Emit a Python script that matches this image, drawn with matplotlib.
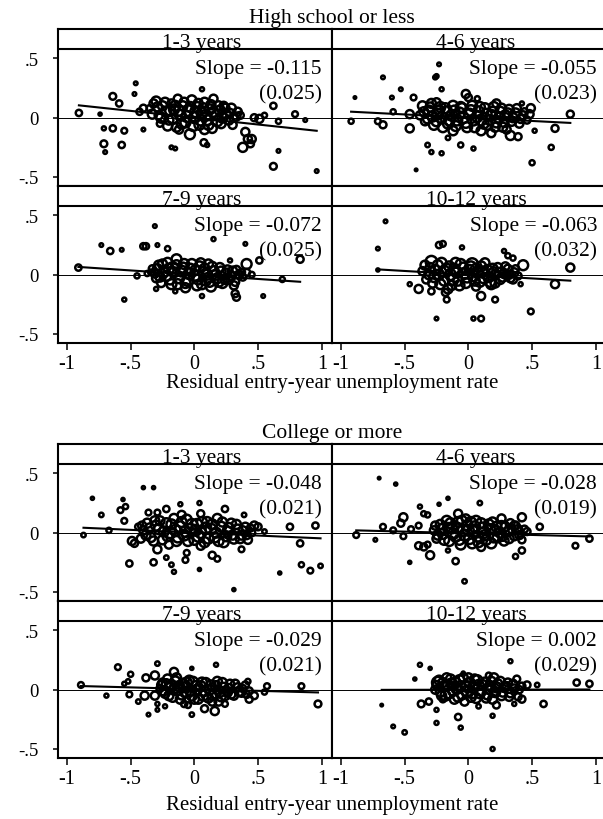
import numpy as np
import matplotlib
matplotlib.use("Agg")
import matplotlib.pyplot as plt

plt.rcParams['font.family'] = ['Liberation Serif', 'DejaVu Serif']

# ---- data (x, y, marker size) ----
group_titles = ["High school or less", "College or more"]
panel_titles = ["1-3 years", "4-6 years", "7-9 years", "10-12 years"]
xlabel = "Residual entry-year unemployment rate"

slopes_hs = [-0.115, -0.055, -0.072, -0.063]
ses_hs = [0.025, 0.023, 0.025, 0.032]
icpt_hs = [0.0, 0.0, 0.0, 0.0]
slopes_col = [-0.048, -0.028, -0.029, 0.002]
ses_col = [0.021, 0.019, 0.021, 0.029]
icpt_col = [0.0, -0.005, 0.005, 0.0]

xticks = [-1, -0.5, 0, 0.5, 1]
yticks = [-0.5, 0, 0.5]

hs_13 = [(-0.906, 0.04, 12), (-0.74, 0.03, 3), (-0.64, 0.18, 14), (-0.59, 0.12, 12), (-0.46, 0.29, 4),
         (-0.47, 0.20, 4), (-0.71, -0.09, 5), (-0.64, -0.09, 12), (-0.55, -0.11, 10), (-0.71, -0.22, 14),
         (-0.70, -0.29, 4), (-0.57, -0.23, 12), (-0.18, -0.25, 4), (-0.15, -0.26, 4), (0.06, 0.24, 5),
         (0.075, -0.21, 14), (0.10, -0.23, 5), (0.62, 0.10, 12), (0.79, 0.03, 10), (0.87, -0.02, 4),
         (0.66, -0.03, 8), (0.51, -0.01, 20), (0.66, -0.28, 4), (0.62, -0.41, 14), (0.96, -0.45, 4),
         (-0.40, -0.10, 4), (-0.43, 0.05, 12), (-0.40, 0.08, 15), (0.47, 0.0, 15), (0.55, 0.02, 8),
         (-0.35, 0.08, 12), (-0.32, 0.12, 20), (-0.30, 0.14, 25), (-0.28, 0.02, 20), (-0.27, -0.05, 12),
         (-0.25, 0.10, 25), (-0.22, 0.05, 30), (-0.20, -0.02, 25), (-0.18, 0.12, 20), (-0.16, 0.07, 30),
         (-0.14, -0.08, 25), (-0.13, 0.16, 20), (-0.11, 0.02, 35), (-0.09, 0.10, 25), (-0.07, -0.04, 30),
         (-0.05, 0.06, 35), (-0.035, -0.14, 30), (-0.02, 0.15, 25), (0.00, 0.00, 35), (0.02, 0.09, 30),
         (0.04, -0.06, 30), (0.06, 0.04, 35), (0.08, 0.13, 25), (0.10, -0.02, 30), (0.12, 0.07, 30),
         (0.14, -0.09, 25), (0.15, 0.16, 20), (0.17, 0.02, 30), (0.19, 0.10, 25), (0.21, -0.05, 25),
         (0.23, 0.10, 20), (0.25, 0.03, 25), (0.28, 0.04, 20), (0.30, -0.06, 20), (0.33, 0.01, 20),
         (0.36, 0.02, 15), (-0.12, -0.10, 20), (0.08, -0.10, 25), (0.40, -0.12, 20), (0.42, -0.18, 20),
         (0.38, -0.25, 25), (0.45, -0.18, 20), (0.44, -0.22, 15)]
hs_13_dense = [(-0.33, 0.03, 25), (-0.29, 0.09, 25), (-0.26, 0.00, 30), (-0.23, 0.13, 25), (-0.21, -0.07, 25),
               (-0.19, 0.06, 30), (-0.17, -0.01, 30), (-0.15, 0.10, 30), (-0.12, 0.06, 30), (-0.10, -0.05, 30),
               (-0.08, 0.13, 25), (-0.06, 0.01, 35), (-0.03, 0.09, 30), (-0.01, -0.07, 30), (0.01, 0.05, 35),
               (0.03, 0.12, 25), (0.05, -0.02, 35), (0.07, 0.08, 30), (0.09, 0.02, 35), (0.11, -0.06, 30),
               (0.13, 0.11, 25), (0.15, 0.05, 30), (0.18, -0.03, 30), (0.20, 0.06, 30), (0.22, 0.00, 30),
               (0.24, 0.08, 25), (0.27, -0.02, 25), (0.29, 0.08, 25), (0.31, 0.00, 20), (0.34, 0.05, 20)]

hs_46 = [(-0.92, -0.03, 8), (-0.89, 0.17, 2), (-0.67, 0.34, 4), (-0.71, -0.03, 10), (-0.67, -0.06, 15),
         (-0.53, 0.24, 4), (-0.60, 0.17, 4), (-0.59, 0.05, 8), (-0.46, -0.09, 20), (-0.46, 0.03, 20),
         (-0.43, 0.17, 10), (-0.23, 0.45, 4), (-0.25, 0.35, 5), (-0.26, 0.34, 5), (-0.21, 0.24, 5),
         (-0.32, -0.23, 6), (-0.29, -0.29, 5), (-0.21, -0.30, 5), (-0.41, -0.44, 2), (-0.16, -0.17, 6),
         (-0.06, -0.23, 8), (0.04, -0.26, 5), (-0.02, 0.20, 20), (0.00, 0.17, 15), (0.07, 0.16, 8),
         (0.42, 0.12, 5), (0.49, 0.08, 20), (0.48, 0.03, 20), (0.52, -0.11, 5), (0.68, -0.09, 15),
         (0.80, 0.03, 15), (0.65, -0.25, 8), (0.50, -0.38, 8), (0.33, -0.15, 25), (0.39, -0.16, 15),
         (0.18, -0.13, 20), (0.30, -0.10, 20),
         (-0.38, 0.02, 20), (-0.36, 0.10, 25), (-0.34, -0.03, 20), (-0.31, 0.06, 30), (-0.29, 0.12, 25),
         (-0.27, -0.06, 30), (-0.24, 0.03, 35), (-0.22, 0.09, 30), (-0.20, -0.08, 30), (-0.17, 0.05, 35),
         (-0.15, -0.02, 35), (-0.12, 0.10, 30), (-0.10, -0.07, 30), (-0.07, 0.04, 35), (-0.05, 0.08, 30),
         (-0.02, -0.04, 35), (0.01, 0.03, 35), (0.03, 0.10, 30), (0.05, -0.08, 30), (0.08, 0.05, 35),
         (0.10, -0.02, 35), (0.13, 0.08, 30), (0.15, -0.06, 30), (0.18, 0.02, 35), (0.20, 0.09, 30),
         (0.22, -0.04, 30), (0.25, 0.05, 30), (0.27, -0.08, 25), (0.29, 0.02, 30), (0.32, 0.07, 25),
         (0.34, -0.03, 25), (0.37, 0.04, 25), (0.40, -0.05, 20), (0.43, 0.02, 20), (0.46, -0.02, 15),
         (-0.12, -0.11, 25), (0.10, -0.11, 25), (-0.25, 0.13, 20), (0.22, 0.12, 20)]
hs_46_dense = [(-0.35, 0.05, 25), (-0.32, -0.01, 25), (-0.30, 0.09, 25), (-0.28, 0.01, 30), (-0.25, -0.03, 30),
               (-0.23, 0.06, 30), (-0.21, 0.00, 35), (-0.18, 0.08, 30), (-0.16, -0.05, 30), (-0.13, 0.02, 35),
               (-0.11, 0.06, 30), (-0.09, -0.02, 35), (-0.06, 0.09, 30), (-0.04, 0.00, 35), (-0.01, -0.08, 30),
               (0.02, 0.06, 35), (0.04, -0.02, 35), (0.07, 0.01, 35), (0.09, 0.09, 30), (0.12, -0.05, 30),
               (0.14, 0.03, 35), (0.17, -0.02, 30), (0.19, 0.05, 30), (0.21, -0.08, 25), (0.24, 0.00, 30),
               (0.26, 0.08, 25), (0.28, -0.04, 25), (0.31, 0.04, 25), (0.35, 0.00, 25), (0.38, 0.08, 20),
               (0.41, -0.01, 20), (0.44, 0.05, 15)]

hs_79 = [(-0.91, 0.06, 12), (-0.73, 0.25, 4), (-0.66, 0.20, 12), (-0.57, 0.21, 4), (-0.40, 0.24, 12),
         (-0.38, 0.24, 12), (-0.31, 0.41, 4), (-0.29, 0.25, 4), (-0.21, 0.22, 8), (-0.55, -0.21, 5),
         (-0.45, -0.01, 8), (0.15, 0.30, 5), (0.40, 0.26, 4), (0.41, 0.09, 30), (0.51, 0.12, 12),
         (0.83, 0.13, 15), (0.69, -0.04, 8), (0.54, -0.18, 4), (0.32, -0.16, 15), (0.33, -0.19, 15),
         (0.06, -0.18, 5), (-0.15, -0.14, 5), (-0.30, -0.12, 5), (0.28, 0.12, 5), (-0.34, 0.02, 10),
         (-0.37, 0.01, 8), (0.45, 0.0, 10),
         (-0.33, 0.05, 15), (-0.30, -0.03, 20), (-0.28, 0.08, 25), (-0.26, -0.07, 20), (-0.24, 0.02, 30),
         (-0.21, 0.10, 30), (-0.19, -0.04, 30), (-0.17, 0.06, 35), (-0.14, 0.13, 30), (-0.13, -0.08, 30),
         (-0.10, 0.03, 35), (-0.08, 0.09, 30), (-0.05, -0.05, 35), (-0.03, 0.05, 30), (0.00, -0.01, 35),
         (0.02, -0.09, 30), (0.04, 0.07, 30), (0.07, 0.02, 35), (0.09, -0.05, 30), (0.11, 0.09, 25),
         (0.13, -0.10, 30), (0.15, 0.03, 30), (0.18, -0.03, 30), (0.20, 0.06, 25), (0.22, -0.07, 30),
         (0.25, 0.01, 30), (0.27, -0.04, 25), (0.30, 0.03, 25), (0.32, -0.06, 20), (0.35, 0.00, 20),
         (0.38, -0.02, 15), (0.41, 0.02, 15), (-0.07, -0.11, 25), (0.05, 0.10, 25)]
hs_79_dense = [(-0.31, 0.01, 20), (-0.29, 0.05, 25), (-0.27, -0.02, 25), (-0.25, 0.09, 25), (-0.22, -0.01, 30),
               (-0.20, 0.05, 30), (-0.18, -0.08, 30), (-0.16, 0.02, 30), (-0.14, 0.08, 30), (-0.12, -0.03, 30),
               (-0.09, 0.06, 30), (-0.07, -0.07, 30), (-0.04, 0.01, 35), (-0.02, 0.09, 30), (0.01, 0.04, 30),
               (0.03, -0.04, 30), (0.06, -0.08, 30), (0.08, 0.05, 30), (0.10, 0.00, 30), (0.12, -0.06, 30),
               (0.14, 0.07, 25), (0.17, 0.00, 30), (0.19, -0.06, 30), (0.21, 0.03, 25), (0.24, -0.04, 25),
               (0.26, 0.04, 25), (0.29, -0.01, 25), (0.31, -0.09, 20), (0.33, 0.04, 20), (0.37, 0.02, 15)]

hs_1012 = [(-0.65, 0.45, 4), (-0.71, 0.22, 4), (-0.23, 0.25, 12), (-0.20, 0.26, 10), (-0.05, 0.23, 5),
           (-0.46, -0.08, 5), (-0.39, -0.12, 20), (-0.29, -0.14, 12), (-0.25, -0.37, 4), (0.04, -0.37, 5),
           (0.10, -0.37, 10), (0.49, -0.31, 10), (0.21, -0.21, 10), (0.10, -0.18, 20), (0.28, 0.20, 5),
           (0.31, 0.16, 8), (0.35, 0.14, 8), (0.43, 0.08, 30), (0.41, -0.08, 5), (0.68, -0.08, 20),
           (0.80, 0.06, 20), (-0.17, -0.21, 10), (-0.71, 0.04, 3),
           (-0.29, 0.11, 40), (-0.10, 0.10, 30), (0.03, 0.09, 40), (0.18, -0.08, 30), (-0.36, 0.03, 20),
           (-0.33, -0.04, 20), (-0.30, 0.06, 25), (-0.27, -0.02, 30), (-0.24, 0.08, 30), (-0.22, -0.08, 30),
           (-0.19, 0.03, 35), (-0.16, -0.12, 25), (-0.15, 0.07, 30), (-0.12, -0.04, 35), (-0.09, 0.02, 35),
           (-0.07, -0.09, 30), (-0.04, 0.06, 30), (-0.01, -0.02, 35), (0.01, 0.04, 30), (0.05, -0.05, 30),
           (0.07, 0.02, 35), (0.10, 0.07, 30), (0.12, -0.03, 30), (0.15, 0.04, 30), (0.17, -0.06, 30),
           (0.20, 0.02, 30), (0.23, 0.06, 25), (0.25, -0.04, 25), (0.28, 0.01, 25), (0.31, 0.05, 20),
           (0.33, -0.03, 20), (0.36, 0.02, 20), (0.39, -0.01, 15), (-0.18, -0.15, 15), (0.06, -0.10, 20)]
hs_1012_dense = [(-0.34, 0.08, 25), (-0.31, 0.00, 25), (-0.28, -0.07, 25), (-0.26, 0.04, 30), (-0.23, 0.00, 30),
                 (-0.21, 0.10, 30), (-0.19, -0.05, 30), (-0.17, 0.05, 30), (-0.14, 0.00, 35), (-0.13, -0.09, 25),
                 (-0.11, 0.05, 30), (-0.08, -0.05, 30), (-0.06, 0.09, 30), (-0.03, 0.01, 35), (-0.02, -0.07, 30),
                 (0.02, 0.07, 30), (0.04, -0.01, 35), (0.06, 0.05, 30), (0.09, -0.06, 30), (0.11, 0.02, 30),
                 (0.13, 0.10, 25), (0.16, -0.02, 30), (0.19, 0.05, 30), (0.21, -0.07, 25), (0.24, 0.02, 25),
                 (0.27, -0.02, 25), (0.29, 0.07, 20), (0.32, 0.00, 20), (0.35, -0.04, 20), (0.37, 0.05, 15)]

col_13 = [(-0.87, -0.02, 6), (-0.80, 0.29, 3), (-0.73, 0.15, 6), (-0.67, 0.02, 8), (-0.58, 0.19, 10),
          (-0.56, 0.28, 3), (-0.54, 0.22, 8), (-0.55, 0.10, 10), (-0.51, -0.26, 12), (-0.49, -0.07, 20),
          (-0.47, -0.09, 15), (-0.40, 0.38, 3), (-0.32, 0.38, 3), (-0.32, -0.25, 12), (-0.29, -0.14, 20),
          (-0.22, -0.21, 6), (-0.18, -0.27, 6), (-0.16, -0.33, 5), (-0.07, -0.23, 10), (-0.06, -0.17, 10),
          (-0.11, 0.24, 5), (0.04, 0.25, 5), (0.05, 0.16, 15), (0.04, -0.31, 3), (0.14, -0.19, 15),
          (0.18, -0.22, 10), (0.24, 0.20, 12), (0.31, -0.48, 3), (0.39, 0.15, 6), (0.37, -0.14, 10),
          (0.47, 0.06, 20), (0.50, 0.05, 15), (0.55, 0.01, 6), (0.75, 0.05, 12), (0.95, 0.06, 12),
          (0.83, -0.09, 12), (0.84, -0.27, 8), (0.91, -0.32, 10), (0.99, -0.28, 6), (0.67, -0.34, 3),
          (-0.22, 0.20, 12), (-0.29, 0.17, 10), (-0.36, 0.17, 10), (-0.44, 0.05, 12), (-0.42, -0.05, 20),
          (-0.40, 0.02, 20), (-0.37, 0.08, 25), (-0.34, -0.04, 25), (-0.31, 0.10, 25), (-0.28, 0.03, 30),
          (-0.25, -0.06, 25), (-0.22, 0.08, 30), (-0.19, 0.00, 35), (-0.16, 0.12, 25), (-0.14, -0.07, 30),
          (-0.11, 0.05, 35), (-0.08, -0.02, 35), (-0.06, 0.11, 30), (-0.03, 0.03, 35), (0.00, -0.06, 30),
          (0.02, 0.07, 35), (0.05, 0.00, 35), (0.08, -0.08, 30), (0.10, 0.09, 30), (0.13, 0.03, 35),
          (0.16, -0.04, 30), (0.18, 0.12, 25), (0.21, 0.05, 30), (0.23, -0.08, 30), (0.26, 0.01, 30),
          (0.29, 0.08, 25), (0.31, -0.05, 30), (0.34, 0.03, 25), (0.37, -0.02, 25), (0.40, 0.05, 20),
          (0.42, -0.06, 20), (0.45, 0.00, 15), (-0.20, -0.10, 20), (0.05, -0.11, 20), (-0.10, 0.15, 20)]
col_13_dense = [(-0.41, 0.06, 20), (-0.38, -0.02, 25), (-0.35, 0.04, 25), (-0.32, -0.07, 25), (-0.30, 0.06, 30),
                (-0.27, 0.10, 25), (-0.24, 0.01, 30), (-0.21, -0.03, 30), (-0.18, 0.07, 30), (-0.15, 0.02, 35),
                (-0.13, -0.04, 30), (-0.10, 0.09, 30), (-0.07, 0.01, 35), (-0.05, -0.07, 30), (-0.02, 0.07, 35),
                (0.01, 0.02, 35), (0.03, -0.03, 35), (0.06, 0.09, 30), (0.09, 0.04, 35), (0.11, -0.05, 30),
                (0.14, 0.07, 30), (0.17, 0.00, 30), (0.19, -0.07, 30), (0.22, 0.09, 25), (0.25, -0.03, 30),
                (0.27, 0.04, 30), (0.30, -0.02, 25), (0.33, 0.07, 25), (0.36, -0.05, 25), (0.38, 0.02, 20),
                (0.41, -0.02, 20), (0.44, 0.04, 15)]

col_46 = [(-0.88, -0.02, 10), (-0.73, -0.06, 4), (-0.70, 0.46, 2), (-0.57, 0.41, 3), (-0.67, 0.05, 10),
          (-0.59, 0.02, 10), (-0.51, 0.13, 20), (-0.53, 0.08, 15), (-0.51, -0.03, 10), (-0.46, -0.25, 3),
          (-0.39, 0.06, 10), (-0.38, 0.22, 5), (-0.35, 0.16, 8), (-0.32, 0.15, 8), (-0.23, 0.24, 3),
          (-0.16, 0.29, 3), (0.09, 0.25, 6), (-0.39, -0.11, 15), (-0.35, -0.12, 15), (-0.32, -0.10, 10),
          (-0.30, -0.19, 20), (-0.16, -0.15, 5), (-0.10, -0.24, 12), (-0.03, -0.41, 6), (0.37, -0.20, 8),
          (0.42, -0.15, 12), (0.42, 0.13, 20), (0.36, 0.06, 20), (0.56, 0.05, 12), (0.84, -0.11, 10),
          (0.95, -0.05, 12), (-0.08, 0.16, 20), (0.26, 0.12, 20), (-0.45, 0.03, 10),
          (-0.27, 0.02, 20), (-0.25, -0.05, 20), (-0.22, 0.07, 25), (-0.20, -0.01, 30), (-0.17, 0.10, 30),
          (-0.15, -0.07, 30), (-0.13, 0.04, 35), (-0.10, -0.03, 35), (-0.08, 0.09, 30), (-0.06, -0.10, 30),
          (-0.04, 0.02, 35), (-0.01, 0.06, 35), (0.01, -0.05, 35), (0.04, 0.01, 35), (0.06, 0.10, 30),
          (0.08, -0.08, 30), (0.11, 0.04, 35), (0.13, -0.02, 30), (0.16, 0.07, 30), (0.18, -0.09, 30),
          (0.21, 0.02, 30), (0.23, -0.04, 30), (0.26, 0.06, 25), (0.28, -0.07, 25), (0.31, 0.01, 25),
          (0.33, 0.08, 20), (0.36, -0.03, 20), (0.39, 0.03, 20), (0.42, -0.06, 15), (0.46, 0.01, 15),
          (-0.02, 0.12, 20), (0.10, -0.12, 20)]
col_46_dense = [(-0.26, 0.06, 20), (-0.24, -0.02, 25), (-0.21, 0.03, 30), (-0.19, -0.06, 30), (-0.16, 0.04, 30),
                (-0.14, 0.08, 30), (-0.12, -0.01, 35), (-0.09, 0.04, 35), (-0.07, -0.06, 30), (-0.05, 0.10, 30),
                (-0.03, -0.02, 35), (0.00, 0.02, 35), (0.02, 0.09, 30), (0.03, -0.09, 30), (0.05, 0.05, 35),
                (0.07, -0.03, 35), (0.10, 0.08, 30), (0.12, 0.00, 35), (0.14, -0.06, 30), (0.17, 0.03, 30),
                (0.19, 0.09, 25), (0.20, -0.04, 30), (0.22, 0.05, 30), (0.25, 0.00, 30), (0.27, -0.03, 25),
                (0.29, 0.05, 25), (0.32, -0.05, 25), (0.34, 0.03, 20), (0.37, 0.06, 20), (0.40, -0.02, 20),
                (0.44, 0.03, 15)]

col_79 = [(-0.89, 0.04, 10), (-0.69, -0.05, 5), (-0.60, 0.19, 10), (-0.55, 0.05, 5), (-0.52, 0.07, 6),
          (-0.50, 0.13, 8), (-0.51, -0.04, 10), (-0.44, -0.10, 6), (-0.39, -0.05, 20), (-0.31, -0.05, 20),
          (-0.38, 0.10, 15), (-0.31, 0.12, 20), (-0.36, -0.21, 4), (-0.29, 0.22, 6), (-0.29, -0.17, 4),
          (-0.23, -0.14, 5), (-0.29, -0.12, 5), (-0.02, 0.18, 3), (0.17, 0.21, 5), (-0.02, -0.21, 6),
          (0.08, -0.16, 15), (0.16, -0.18, 20), (0.24, -0.12, 10), (0.43, -0.08, 15), (0.47, -0.05, 15),
          (0.42, 0.07, 8), (0.57, 0.03, 10), (0.55, -0.02, 8), (0.84, 0.03, 10), (0.97, -0.12, 14),
          (-0.16, 0.15, 20), (-0.08, -0.12, 12), (-0.05, -0.13, 10),
          (-0.27, 0.01, 15), (-0.25, 0.06, 20), (-0.23, -0.03, 25), (-0.21, 0.09, 25), (-0.19, 0.02, 30),
          (-0.17, -0.06, 30), (-0.15, 0.07, 30), (-0.13, 0.00, 35), (-0.11, -0.08, 25), (-0.09, 0.05, 30),
          (-0.07, -0.02, 35), (-0.04, 0.08, 25), (-0.02, -0.05, 30), (0.01, 0.03, 30), (0.03, -0.08, 25),
          (0.06, 0.06, 30), (0.08, -0.01, 30), (0.11, -0.07, 25), (0.13, 0.04, 25), (0.16, -0.03, 30),
          (0.18, 0.07, 25), (0.21, -0.06, 25), (0.23, 0.02, 25), (0.26, -0.02, 25), (0.28, 0.05, 20),
          (0.31, -0.05, 20), (0.34, 0.02, 20), (0.37, -0.03, 15), (0.40, 0.04, 15), (0.43, -0.01, 15),
          (0.19, -0.10, 20), (0.14, -0.10, 20)]
col_79_dense = [(-0.26, 0.04, 20), (-0.24, -0.01, 25), (-0.22, 0.05, 25), (-0.20, -0.05, 25), (-0.18, 0.04, 30),
                (-0.16, 0.00, 30), (-0.14, 0.10, 25), (-0.12, 0.03, 30), (-0.10, -0.04, 30), (-0.08, 0.02, 30),
                (-0.06, 0.06, 30), (-0.03, -0.01, 30), (-0.01, 0.07, 25), (0.00, -0.08, 25), (0.02, 0.00, 30),
                (0.05, 0.03, 30), (0.07, -0.05, 30), (0.09, 0.06, 25), (0.12, 0.00, 30), (0.14, -0.05, 25),
                (0.17, 0.03, 30), (0.20, -0.02, 30), (0.22, 0.06, 25), (0.24, -0.05, 25), (0.27, 0.01, 25),
                (0.29, -0.04, 20), (0.32, 0.05, 20), (0.35, -0.02, 20), (0.38, 0.01, 15), (0.41, -0.04, 15)]

col_1012 = [(-0.68, -0.13, 2), (-0.59, -0.31, 4), (-0.50, -0.36, 6), (-0.38, 0.21, 5), (-0.30, 0.18, 3),
            (-0.42, 0.09, 3), (-0.37, -0.12, 14), (-0.31, -0.10, 12), (-0.25, -0.28, 5), (-0.25, -0.17, 5),
            (-0.08, -0.23, 12), (-0.06, -0.32, 5), (-0.04, 0.14, 3), (0.08, -0.14, 6), (0.19, -0.22, 5),
            (0.19, -0.50, 5), (0.22, -0.13, 14), (0.33, 0.24, 5), (0.38, 0.09, 14), (0.36, -0.12, 5),
            (0.46, 0.04, 15), (0.54, 0.04, 6), (0.59, -0.12, 12), (0.85, 0.06, 12), (0.95, 0.05, 12),
            (-0.24, 0.06, 40), (0.16, 0.12, 10), (0.42, -0.08, 15), (-0.20, -0.08, 12),
            (-0.26, 0.00, 20), (-0.23, 0.08, 25), (-0.21, -0.05, 25), (-0.19, 0.03, 30), (-0.17, 0.10, 25),
            (-0.15, -0.03, 30), (-0.13, 0.05, 35), (-0.11, -0.08, 25), (-0.09, 0.01, 35), (-0.07, 0.08, 30),
            (-0.05, -0.04, 30), (-0.02, 0.03, 35), (0.00, 0.10, 25), (0.02, -0.06, 30), (0.04, 0.02, 35),
            (0.07, 0.08, 30), (0.09, -0.03, 30), (0.11, 0.04, 30), (0.14, -0.07, 25), (0.16, 0.01, 30),
            (0.18, 0.07, 25), (0.21, -0.02, 30), (0.23, 0.05, 25), (0.26, -0.05, 25), (0.28, 0.02, 25),
            (0.31, 0.06, 20), (0.33, -0.03, 20), (0.36, 0.01, 20), (0.39, -0.06, 15), (0.42, 0.03, 15),
            (-0.03, -0.10, 20)]
col_1012_dense = [(-0.25, 0.04, 20), (-0.22, -0.02, 25), (-0.20, 0.06, 25), (-0.18, -0.05, 30), (-0.16, 0.04, 30),
                  (-0.14, 0.09, 25), (-0.12, -0.01, 30), (-0.10, 0.06, 30), (-0.08, -0.06, 30), (-0.06, 0.03, 30),
                  (-0.04, 0.10, 25), (-0.01, -0.01, 35), (0.01, 0.06, 30), (0.03, -0.03, 30), (0.05, 0.09, 25),
                  (0.06, -0.07, 30), (0.08, 0.04, 30), (0.10, -0.01, 30), (0.13, 0.06, 30), (0.15, -0.04, 30),
                  (0.17, 0.03, 30), (0.19, -0.08, 25), (0.20, 0.10, 25), (0.22, 0.02, 30), (0.25, 0.07, 25),
                  (0.27, -0.02, 25), (0.30, 0.03, 20), (0.32, -0.06, 20), (0.35, 0.05, 20), (0.40, 0.00, 15)]

hs_panels = [hs_13 + hs_13_dense, hs_46 + hs_46_dense, hs_79 + hs_79_dense, hs_1012 + hs_1012_dense]
col_panels = [col_13 + col_13_dense, col_46 + col_46_dense, col_79 + col_79_dense, col_1012 + col_1012_dense]


def tick_fmt(v):
    if v == 0:
        return "0"
    s = f"{v:g}"
    return s.replace("0.", ".")


W, H = 603, 820
fig = plt.figure(figsize=(W / 100, H / 100), dpi=100)

group_tops = [30, 445]
xlabel_base = [388, 810]
col_left = [58, 332]
PW, PH = 274, 157
XL = (-1.07, 1.08)
YL = (-0.576, 0.748)
strip_y = 0.576
msize = 1.7   # scanned markers print heavier

groups = [(group_titles[0], hs_panels, slopes_hs, ses_hs, icpt_hs),
          (group_titles[1], col_panels, slopes_col, ses_col, icpt_col)]

for g, (gtitle, panels, slopes, ses, icpts) in enumerate(groups):
    top = group_tops[g]
    fig.text(332 / W, 1 - (top - 7) / H, gtitle, ha='center', va='baseline', fontsize=15.5)
    fig.text(332 / W, 1 - xlabel_base[g] / H, xlabel, ha='center', va='baseline', fontsize=15)
    for k in range(4):
        r, c = divmod(k, 2)
        ax = fig.add_axes([col_left[c] / W, 1 - (top + (r + 1) * PH) / H, PW / W, PH / H])
        pts = np.array(panels[k])
        x, y, s = pts[:, 0], pts[:, 1], pts[:, 2]
        ax.axhline(0, color='black', lw=0.7, zorder=1)
        ax.scatter(x, y, s=s * msize, facecolors='none', edgecolors='black', linewidths=1.8, zorder=2)
        xx = np.array([x.min(), x.max()])
        ax.plot(xx, icpts[k] + slopes[k] * xx, color='black', lw=1.5, zorder=3)
        ax.axhline(strip_y, color='black', lw=1.5)
        ax.text(0.06, strip_y + 0.02, panel_titles[k], ha='center', va='baseline', fontsize=15.5)
        xr = 1.0 if c == 0 else 1.01
        ax.text(xr, 0.377, f"Slope = {slopes[k]:.3f}", ha='right', va='baseline', fontsize=15.5)
        ax.text(xr, 0.164, f"({ses[k]:.3f})", ha='right', va='baseline', fontsize=15.5)
        ax.set_xlim(*XL)
        ax.set_ylim(*YL)
        for sp in ax.spines.values():
            sp.set_linewidth(1.5)
        if c == 0:
            ax.set_yticks(yticks)
            ax.set_yticklabels([tick_fmt(v) for v in yticks], fontsize=13.5)
            ax.tick_params(axis='y', direction='out', length=3.6, width=1.1, pad=10)
        else:
            ax.set_yticks([])
        if r == 1:
            ax.set_xticks(xticks)
            ax.set_xticklabels([tick_fmt(v) for v in xticks], fontsize=14.5)
            ax.tick_params(axis='x', direction='out', length=5, width=1.1, pad=3)
        else:
            ax.set_xticks([])

fig.savefig("out.png", dpi=100)
